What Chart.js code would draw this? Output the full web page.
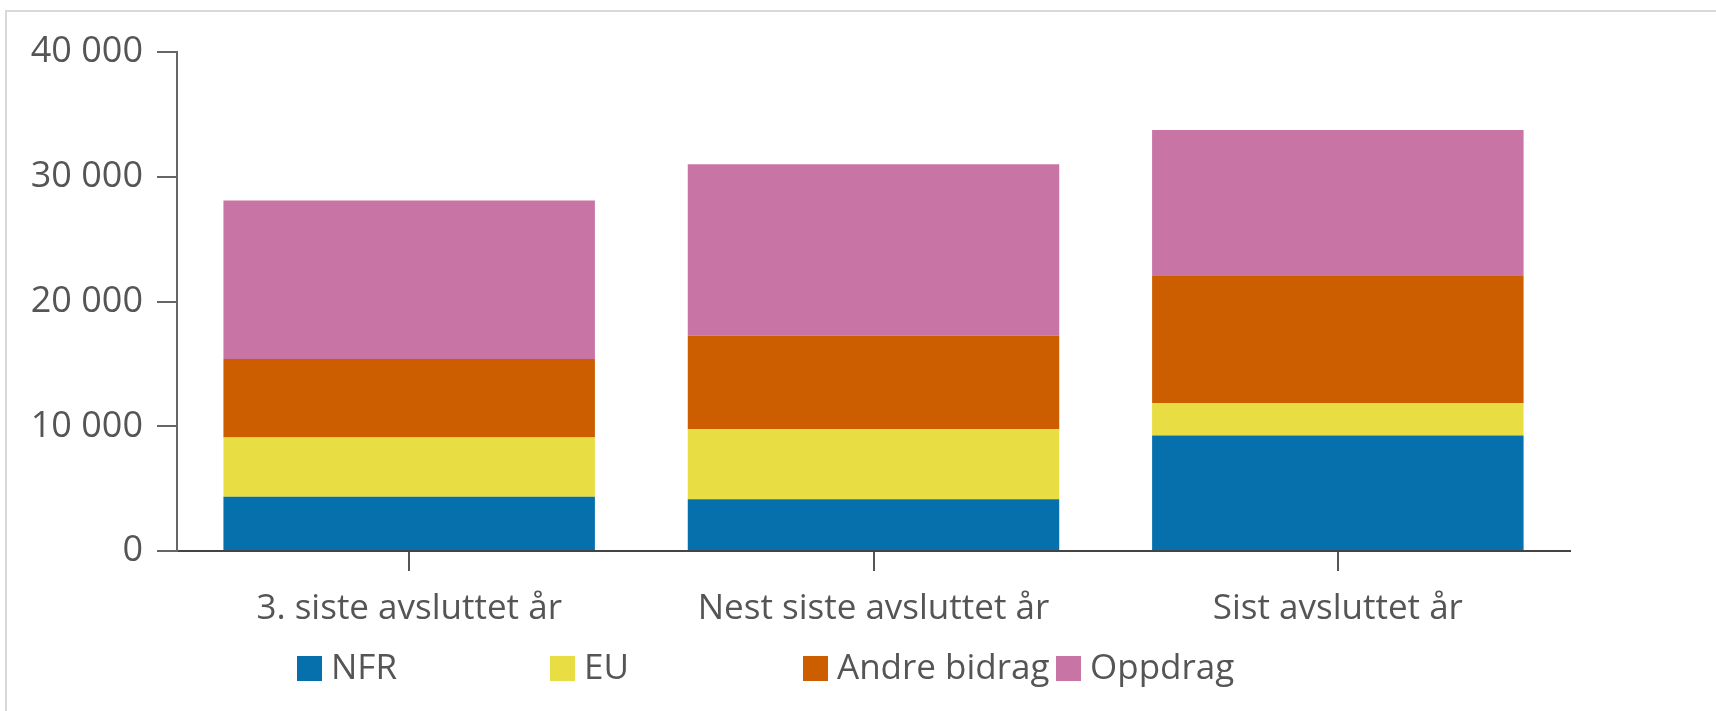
<!DOCTYPE html>
<html>
<head>
<meta charset="utf-8">
<script src="https://cdn.jsdelivr.net/npm/chart.js@4/dist/chart.umd.min.js"></script>
<style>
  html, body { margin: 0; padding: 0; background: #fff; overflow: hidden; }
  #frame { position: absolute; left: 5px; top: 10px; width: 2000px; height: 1000px; border: 2px solid #d9d9d9; box-sizing: border-box; }
  #wrap { position: absolute; left: 0; top: 0; width: 1716px; height: 711px; }
</style>
</head>
<body>
<div id="frame"></div>
<div id="wrap"><canvas id="c" width="1716" height="711"></canvas></div>
<script>
const categories = ["3. siste avsluttet år", "Nest siste avsluttet år", "Sist avsluttet år"];
const seriesNames = ["NFR", "EU", "Andre bidrag", "Oppdrag"];
const nfr = [4350, 4150, 9250];
const eu = [4750, 5600, 2600];
const andreBidrag = [6300, 7500, 10200];
const oppdrag = [12700, 13750, 11700];
const yTicks = [0, 10000, 20000, 30000, 40000];
const colors = ["#0670AD", "#E8DD42", "#CC5E00", "#C874A4"];

const FONT = "'Open Sans', 'Noto Sans', sans-serif";
const TEXT = "#555555";

const legendPlugin = {
  id: 'customLegend',
  afterDraw(chart, args, o) {
    const ctx = chart.ctx;
    ctx.save();
    ctx.font = o.fontSize + "px " + FONT;
    ctx.textBaseline = 'middle';
    ctx.textAlign = 'left';
    chart.data.datasets.forEach((ds, i) => {
      const x = o.startX + i * o.itemWidth;
      ctx.fillStyle = ds.backgroundColor;
      ctx.fillRect(x, o.y, o.box, o.box);
      ctx.fillStyle = TEXT;
      ctx.fillText(ds.label, x + o.box + o.gap, o.y + o.box / 2 + 1);
    });
    ctx.restore();
  }
};

const seriesValues = [nfr, eu, andreBidrag, oppdrag];

new Chart(document.getElementById('c'), {
  type: 'bar',
  data: {
    labels: categories,
    datasets: seriesNames.map((name, i) => ({
      label: name,
      data: seriesValues[i],
      backgroundColor: colors[i],
      borderWidth: 0,
      barPercentage: 0.8,
      categoryPercentage: 1.0
    }))
  },
  options: {
    responsive: false,
    animation: false,
    layout: { padding: { top: 52, right: 146, bottom: 80, left: 0 } },
    plugins: {
      legend: { display: false },
      tooltip: { enabled: false },
      customLegend: { startX: 297, itemWidth: 253, y: 656, box: 25, gap: 9, fontSize: 35 }
    },
    scales: {
      x: {
        stacked: true,
        grid: { display: true, offset: false, drawOnChartArea: false, drawTicks: true, tickLength: 20, color: '#555', lineWidth: 2 },
        border: { display: true, color: '#444', width: 2 },
        ticks: { color: TEXT, font: { family: FONT, size: 35 }, padding: 17, maxRotation: 0, autoSkip: false },
        afterFit(s) { s.height = 80; s.paddingLeft = 0; s.paddingRight = 0; }
      },
      y: {
        stacked: true,
        min: 0,
        max: 40000,
        afterBuildTicks(s) { s.ticks = yTicks.map(v => ({ value: v })); },
        grid: { display: true, drawOnChartArea: false, drawTicks: true, tickLength: 20, color: '#666', lineWidth: 2 },
        border: { display: true, color: '#666', width: 2 },
        ticks: {
          color: TEXT,
          font: { family: FONT, size: 36 },
          padding: 14,
          callback: v => String(v).replace(/\B(?=(\d{3})+(?!\d))/g, ' ')
        },
        afterFit(s) { s.width = 177; s.paddingTop = 0; s.paddingBottom = 0; }
      }
    }
  },
  plugins: [legendPlugin]
});
</script>
</body>
</html>
